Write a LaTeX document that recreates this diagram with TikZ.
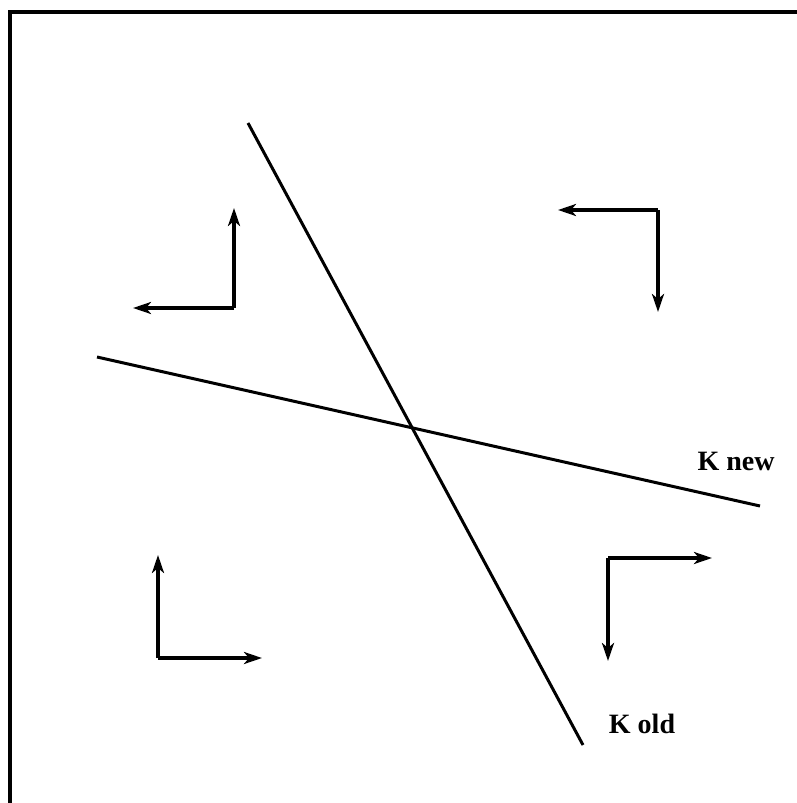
\documentclass[tikz,border=0pt]{standalone}
\usepackage{fontspec}
\setmainfont{Liberation Serif}
\usetikzlibrary{arrows.meta}
\begin{document}
\begin{tikzpicture}[x=1pt,y=-1pt,
  frame/.style={line width=4pt},
  kline/.style={line width=3pt},
  vec/.style={line width=3.2pt,-{Stealth[length=18pt,width=12pt,inset=5pt]}},
  lbl/.style={font=\fontsize{28}{32}\selectfont\bfseries,inner sep=0pt}]
\useasboundingbox (0,0) rectangle (797,803);
% frame (top and left only)
\coordinate (fbl) at (10,803);
\coordinate (ftl) at (10,12);
\coordinate (ftr) at (797,12);
\draw[frame] (fbl) -- (ftl) -- (ftr);
% K old and K new lines
\coordinate (oa) at (248,123);
\coordinate (ob) at (583,745);
\coordinate (na) at (97,357);
\coordinate (nb) at (760,506);
\draw[kline] (oa) -- (ob);
\draw[kline] (na) -- (nb);
\node[lbl] (knew) at (736,461) {K new};
\node[lbl] (kold) at (642,724) {K old};
% top-left pair
\coordinate (c1) at (234,308);
\coordinate (c1u) at (234,208);
\coordinate (c1l) at (133,308);
\draw[vec] (c1) -- (c1u);
\draw[vec] (c1) -- (c1l);
% top-right pair
\coordinate (c2) at (658,210);
\coordinate (c2l) at (558,210);
\coordinate (c2d) at (658,312);
\draw[vec] (c2) -- (c2l);
\draw[vec] (c2) -- (c2d);
% bottom-left pair
\coordinate (c3) at (158,658);
\coordinate (c3u) at (158,555);
\coordinate (c3r) at (262,658);
\draw[vec] (c3) -- (c3u);
\draw[vec] (c3) -- (c3r);
% bottom-right pair
\coordinate (c4) at (608,558);
\coordinate (c4r) at (712,558);
\coordinate (c4d) at (608,661);
\draw[vec] (c4) -- (c4r);
\draw[vec] (c4) -- (c4d);
\end{tikzpicture}
\end{document}
